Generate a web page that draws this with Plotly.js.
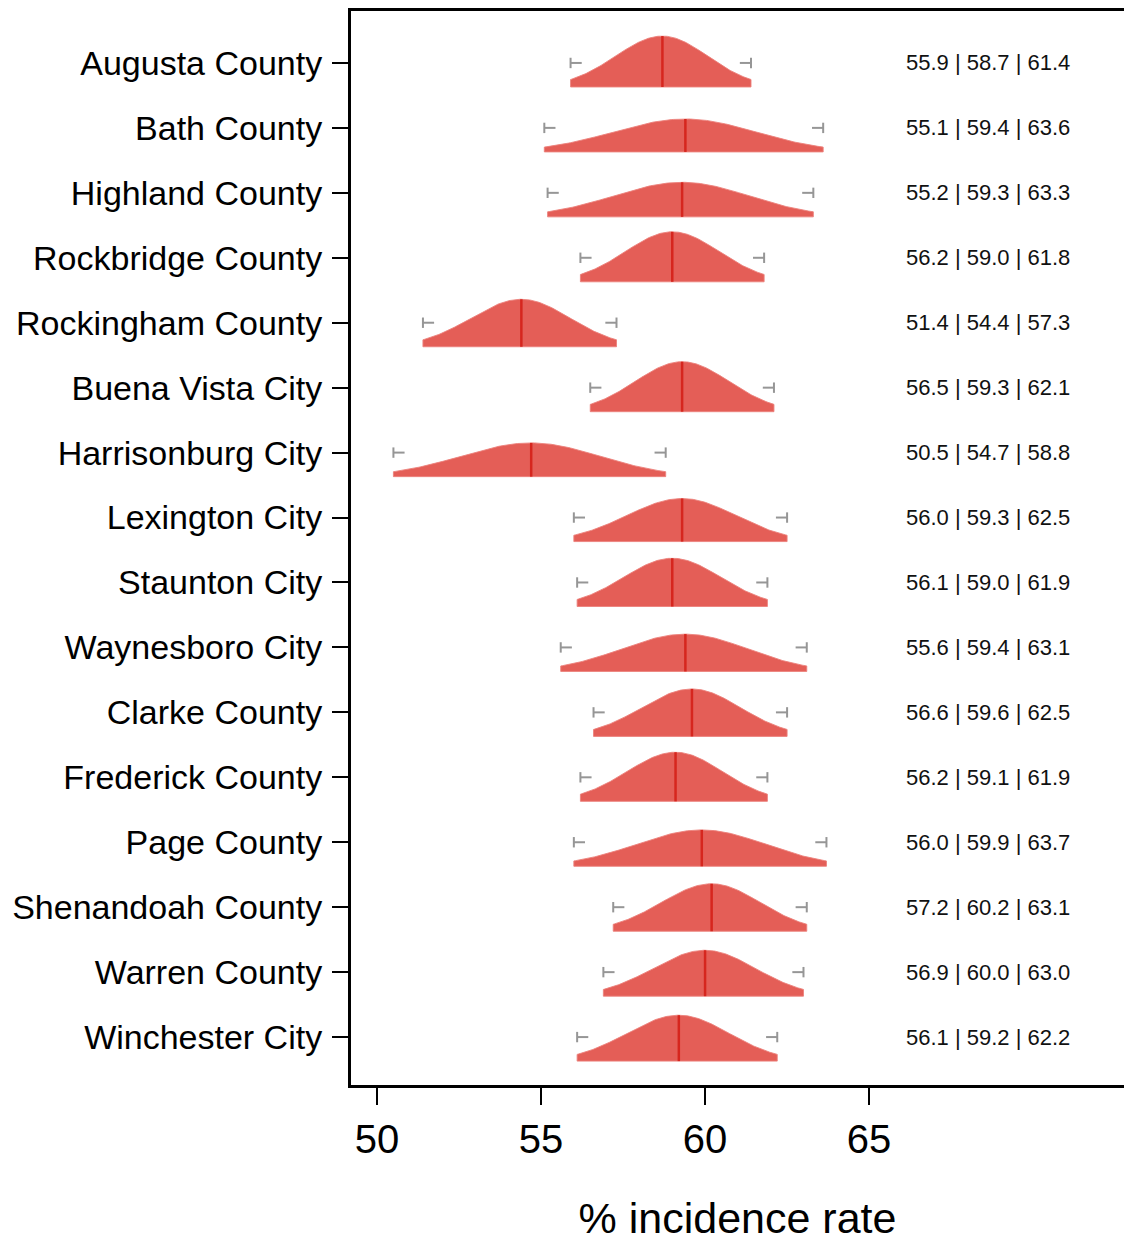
<!DOCTYPE html>
<html>
<head>
<meta charset="utf-8">
<script src="https://cdn.plot.ly/plotly-3.0.1.min.js"></script>
<style>html,body{margin:0;padding:0;background:#fff;}#chart{width:1124px;height:1242px;}</style>
</head>
<body>
<div id="chart"></div>
<script>
// ---- data ----
const categories = ["Augusta County","Bath County","Highland County","Rockbridge County","Rockingham County","Buena Vista City","Harrisonburg City","Lexington City","Staunton City","Waynesboro City","Clarke County","Frederick County","Page County","Shenandoah County","Warren County","Winchester City"];
const lower  = [55.9,55.1,55.2,56.2,51.4,56.5,50.5,56.0,56.1,55.6,56.6,56.2,56.0,57.2,56.9,56.1];
const median = [58.7,59.4,59.3,59.0,54.4,59.3,54.7,59.3,59.0,59.4,59.6,59.1,59.9,60.2,60.0,59.2];
const upper  = [61.4,63.6,63.3,61.8,57.3,62.1,58.8,62.5,61.9,63.1,62.5,61.9,63.7,63.1,63.0,62.2];
const xTicks = [50,55,60,65];

// ---- drawing ----
const FILL = "rgb(228,94,87)";
const MED = "rgb(214,38,30)";
const GREY = "rgb(150,150,150)";
const BASE_OFF = 0.37;   // baseline offset below category centre (axis units)
const HSCALE = 1.10;     // peak height * sd
const traces = [];
const wx = [], wy = [];
const mx = [], my = [];
categories.forEach((c, i) => {
  const sdL = (median[i] - lower[i]) / 1.96;
  const sdR = (upper[i] - median[i]) / 1.96;
  const h = HSCALE / ((sdL + sdR) / 2);
  const base = i + BASE_OFF;
  const xs = [lower[i]], ys = [base];
  const N = 160;
  for (let k = 0; k <= N; k++) {
    const x = lower[i] + (upper[i] - lower[i]) * k / N;
    const sd = x < median[i] ? sdL : sdR;
    const z = (x - median[i]) / sd;
    xs.push(x); ys.push(base - h * Math.exp(-0.5 * z * z));
  }
  xs.push(upper[i]); ys.push(base); xs.push(lower[i]); ys.push(base);
  traces.push({type:"scatter", mode:"lines", x:xs, y:ys, fill:"toself", fillcolor:FILL,
    line:{color:"rgba(236,130,124,0.9)", width:1}, hoverinfo:"skip", showlegend:false});
  // median line
  mx.push(median[i], median[i], null); my.push(base, base - h, null);
  // whiskers
  const cap = 0.08, stub = 0.34;
  wx.push(lower[i], lower[i], null, lower[i], lower[i] + stub, null,
          upper[i], upper[i], null, upper[i] - stub, upper[i], null);
  wy.push(i - cap, i + cap, null, i, i, null, i - cap, i + cap, null, i, i, null);
});
traces.push({type:"scatter", mode:"lines", x:mx, y:my, line:{color:MED, width:2.5}, hoverinfo:"skip", showlegend:false});
traces.push({type:"scatter", mode:"lines", x:wx, y:wy, line:{color:GREY, width:2}, hoverinfo:"skip", showlegend:false});

const annotations = categories.map((c, i) => ({
  x: 66.05, y: i, xref:"x", yref:"y", xanchor:"left", yanchor:"middle",
  text: lower[i].toFixed(1) + " | " + median[i].toFixed(1) + " | " + upper[i].toFixed(1),
  showarrow:false, font:{family:"Liberation Sans, Arial, sans-serif", size:22, color:"#111"}
}));

const layout = {
  width:1124, height:1242,
  margin:{l:351, r:0, t:10.5, b:157},
  paper_bgcolor:"#fff", plot_bgcolor:"#fff",
  font:{family:"Liberation Sans, Arial, sans-serif", color:"#000"},
  showlegend:false,
  xaxis:{range:[49.207, 72.77], tickvals:xTicks, ticktext:xTicks.map(String),
    showgrid:false, zeroline:false, showline:true, linecolor:"#000", linewidth:3, mirror:true,
    ticks:"outside", ticklen:17, tickwidth:2, tickcolor:"#000",
    tickfont:{size:40, color:"#000"},
    title:{text:"% incidence rate", font:{size:43, color:"#000"}, standoff:45}},
  yaxis:{range:[15.738, -0.8], tickvals:categories.map((c,i)=>i), ticktext:categories,
    showgrid:false, zeroline:false, showline:true, linecolor:"#000", linewidth:3,
    ticks:"outside", ticklen:16, tickwidth:2, tickcolor:"#000", ticklabelstandoff:3,
    tickfont:{size:34, color:"#000"}},
  annotations: annotations
};
Plotly.newPlot("chart", traces, layout, {staticPlot:true});
</script>
</body>
</html>
